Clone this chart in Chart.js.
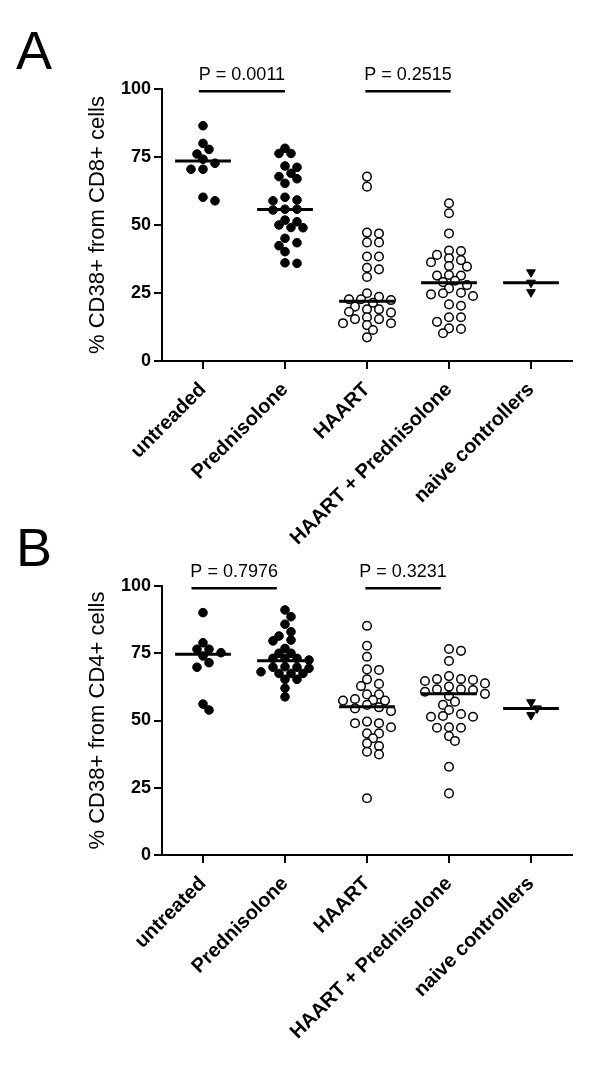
<!DOCTYPE html>
<html><head><meta charset="utf-8">
<script src="https://cdn.jsdelivr.net/npm/chart.js@4.4.1/dist/chart.umd.min.js"></script>
<style>
html,body{margin:0;padding:0;background:#fff;width:600px;height:1065px;overflow:hidden;font-family:'Liberation Sans',Arial,sans-serif}
.panel{position:absolute;left:0;width:600px}
.letter{position:absolute;left:16px;font-size:54px;line-height:1;color:#000;font-family:'Liberation Sans',Arial,sans-serif}
canvas{display:block}
</style></head><body>
<div class="letter" style="top:23px">A</div>
<div class="letter" style="top:520px">B</div>
<div class="panel" style="top:0;height:565px"><canvas id="cA" width="600" height="565"></canvas></div>
<div class="panel" style="top:532px;height:533px"><canvas id="cB" width="600" height="533"></canvas></div>
<script>
// ---- data ----
const categoriesA = ['untreaded','Prednisolone','HAART','HAART + Prednisolone','naive controllers'];
const categoriesB = ['untreated','Prednisolone','HAART','HAART + Prednisolone','naive controllers'];
const yTickValues = [0,25,50,75,100];

// Panel A: % CD38+ from CD8+ cells
const cd8Untreated = [86.5,80.0,77.8,76.1,74.2,72.7,70.5,70.5,60.2,58.9];
const cd8Prednisolone = [78.2,76.3,76.3,71.7,71.2,69.0,67.8,67.0,65.3,60.2,59.2,58.9,55.8,55.8,55.5,51.8,51.2,50.0,49.1,49.0,45.1,43.5,42.4,40.2,36.1,35.9];
const cd8Haart = [67.8,64.1,47.2,46.9,43.6,43.6,38.4,38.4,34.3,33.7,30.9,24.9,23.6,22.7,22.7,22.4,21.4,20.0,19.0,19.0,18.1,17.8,16.1,15.4,15.4,13.9,13.9,13.2,11.4,8.7];
const cd8HaartPred = [58.0,54.3,46.9,40.6,40.4,39.0,37.8,37.1,36.3,34.9,34.7,31.6,31.4,31.4,29.5,29.0,27.9,26.7,25.1,24.9,24.5,23.9,20.8,20.3,16.1,16.1,14.4,12.0,11.8,10.2];
const cd8Naive = [32.6,28.8,25.3];
const cd8Medians = [73.5,55.7,22.0,28.8,28.8];
const pTextsA = ['P = 0.0011','P = 0.2515'];

// Panel B: % CD38+ from CD4+ cells
const cd4Untreated = [90.1,78.9,76.5,76.5,75.2,74.0,71.5,69.8,56.1,53.9];
const cd4Prednisolone = [91.1,88.6,85.8,83.0,81.4,79.9,79.6,76.8,75.0,75.0,73.1,73.1,73.1,72.5,70.0,69.8,69.8,69.4,68.1,67.5,67.5,67.5,65.3,65.3,62.0,58.8];
const cd4Haart = [85.2,77.8,73.7,69.0,68.8,65.3,63.6,62.8,59.7,59.7,58.0,57.6,57.4,57.4,55.8,54.9,54.5,53.5,49.6,49.0,49.0,47.5,45.2,45.2,43.4,41.5,40.5,38.4,37.4,21.1];
const cd4HaartPred = [76.6,75.9,72.1,66.5,65.4,65.4,65.1,64.7,63.8,62.6,61.6,61.6,61.3,60.7,59.9,59.1,57.0,55.8,53.9,52.4,51.7,51.4,51.4,47.5,47.3,47.3,44.2,42.4,32.8,22.9];
const cd4Naive = [56.8,54.5,52.0];
const cd4Medians = [74.6,72.2,55.1,59.9,54.5];
const pTextsB = ['P = 0.7976','P = 0.3231'];

// comparison pairs (group indices)
const comparePairs = [[0,1],[2,3]];

// ---- drawing ----
const FONT = "'Liberation Sans', Arial, sans-serif";
const STEP = 6, DIAM = 7.6;

function buildPanel(id, cats, groups, medians, pTexts, yTitle, geom) {
  const styles = [
    {pointStyle:'circle', pointRadius:4.3, backgroundColor:'#000', borderColor:'#000', borderWidth:1},
    {pointStyle:'circle', pointRadius:4.3, backgroundColor:'#000', borderColor:'#000', borderWidth:1},
    {pointStyle:'circle', pointRadius:4.3, backgroundColor:'#fff', borderColor:'#000', borderWidth:1.5},
    {pointStyle:'circle', pointRadius:4.3, backgroundColor:'#fff', borderColor:'#000', borderWidth:1.5},
    {pointStyle:'triangle', rotation:180, pointRadius:5, backgroundColor:'#000', borderColor:'#000', borderWidth:1}
  ];
  const datasets = [];
  groups.forEach((vals,i)=>{
    datasets.push(Object.assign({type:'scatter', label:cats[i], order:2, clip:false,
      data: vals.map(v=>({x:i,y:v}))}, styles[i]));
  });
  medians.forEach((m,i)=>{
    datasets.push({type:'line', order:0, clip:false, data:[{x:i-0.34,y:m},{x:i+0.34,y:m}],
      borderColor:'#000', borderWidth:3, pointRadius:0, fill:false});
  });
  comparePairs.forEach((p,k)=>{
    datasets.push({type:'line', order:0, clip:false,
      data:[{x:p[0]+geom.br[k][0],y:geom.brY},{x:p[1]+geom.br[k][1],y:geom.brY}],
      borderColor:'#000', borderWidth:2.5, pointRadius:0, fill:false});
  });
  const pPlugin = {
    id:'ptext',
    afterDatasetsDraw(chart){
      const ctx = chart.ctx, xs = chart.scales.x, ys = chart.scales.y;
      ctx.save();
      ctx.font = '18px ' + FONT;
      ctx.fillStyle = '#000';
      ctx.textAlign = 'center';
      ctx.textBaseline = 'alphabetic';
      comparePairs.forEach((p,k)=>{
        const xm = (xs.getPixelForValue(p[0]+geom.br[k][0]) + xs.getPixelForValue(p[1]+geom.br[k][1]))/2;
        ctx.fillText(pTexts[k], xm, ys.getPixelForValue(geom.brY) - geom.textGap);
      });
      ctx.restore();
    }
  };
  const chart = new Chart(document.getElementById(id), {
    type:'scatter',
    data:{datasets},
    plugins:[pPlugin],
    options:{
      responsive:false, animation:false, devicePixelRatio:1,
      layout:{padding:{left:0, right:28, top:geom.top, bottom:0}},
      plugins:{legend:{display:false}, tooltip:{enabled:false}},
      scales:{
        x:{type:'linear', min:-0.5, max:4.5,
          afterBuildTicks(s){ s.ticks = cats.map((c,i)=>({value:i})); },
          afterFit(s){ s.height = geom.xH; },
          grid:{drawOnChartArea:false, drawTicks:true, tickLength:8, color:'#000', lineWidth:2},
          border:{display:true, color:'#000', width:2},
          ticks:{autoSkip:false, maxRotation:45, minRotation:45, padding:9, color:'#000',
            font:{family:FONT, size:20, weight:'bold'},
            callback:(v)=>cats[Math.round(v)]}
        },
        y:{min:0, max:100,
          afterBuildTicks(s){ s.ticks = yTickValues.map(v=>({value:v})); },
          afterFit(s){ s.width = 162; },
          grid:{drawOnChartArea:false, drawTicks:true, tickLength:8, color:'#000', lineWidth:2},
          border:{display:true, color:'#000', width:2},
          ticks:{color:'#000', padding:3, font:{family:FONT, size:18, weight:'bold'}},
          title:{display:true, text:yTitle, color:'#000', font:{family:FONT, size:22}, padding:{top:85,bottom:0}}
        }
      }
    }
  });
  // beeswarm spreading computed through the chart's scales
  const xs = chart.scales.x, ys = chart.scales.y;
  const pxX = xs.getPixelForValue(1) - xs.getPixelForValue(0);
  groups.forEach((vals,gi)=>{
    const placed = [];
    chart.data.datasets[gi].data = vals.map(v=>{
      const py = ys.getPixelForValue(v);
      let off = 0;
      for (let k=0;k<40;k++){
        const cand = (k%2===1?1:-1)*Math.ceil(k/2)*STEP;
        if (placed.every(p=>Math.hypot(p.x-cand,p.y-py) >= DIAM)) { off = cand; break; }
      }
      placed.push({x:off,y:py});
      return {x: gi + off/pxX, y: v};
    });
  });
  chart.update('none');
  return chart;
}

buildPanel('cA', categoriesA, [cd8Untreated,cd8Prednisolone,cd8Haart,cd8HaartPred,cd8Naive], cd8Medians, pTextsA,
  '% CD38+ from CD8+ cells', {top:89, xH:204, brY:99.2, br:[[-0.05,0.0],[-0.02,0.02]], textGap:11});
buildPanel('cB', categoriesB, [cd4Untreated,cd4Prednisolone,cd4Haart,cd4HaartPred,cd4Naive], cd4Medians, pTextsB,
  '% CD38+ from CD4+ cells', {top:54, xH:210, brY:99.2, br:[[-0.14,-0.1],[-0.02,-0.1]], textGap:11});
</script>
</body></html>
